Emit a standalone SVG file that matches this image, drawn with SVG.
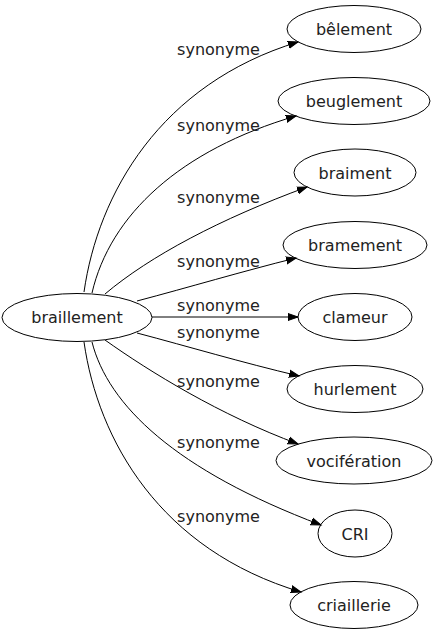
<svg xmlns="http://www.w3.org/2000/svg" width="438" height="635" viewBox="0 0 438 635">
<style>
.node ellipse{fill:none;stroke:#000;stroke-width:1}
.node text{font-family:"DejaVu Sans",sans-serif;font-size:16px;fill:#222;text-anchor:middle}
.edges path{fill:none;stroke:#000;stroke-width:1;marker-end:url(#arr)}
.edges text{font-family:"DejaVu Sans",sans-serif;font-size:16px;fill:#222;text-anchor:middle}
</style>
<defs>
<marker id="arr" markerUnits="userSpaceOnUse" markerWidth="12" markerHeight="10" viewBox="0 -5 12 10" refX="10" refY="0" orient="auto">
<path d="M0,-3.5 L10,0 L0,3.5 z" fill="#000" stroke="#000" stroke-width="1"/>
</marker>
</defs>
<rect width="438" height="635" fill="#fff"/>
<g class="edges" id="edges">
<path d="M84,292 C98,194 160,84 298,42"/>
<text x="218.5" y="55">synonyme</text>
<path d="M92,293 C110,215 180,150 296,116"/>
<text x="218.5" y="131">synonyme</text>
<path d="M105,294 C150,256 220,219 307,187"/>
<text x="218.5" y="203">synonyme</text>
<path d="M137,301 C190,287 240,272 296,258"/>
<text x="218.5" y="267">synonyme</text>
<path d="M152,317 L298,317"/>
<text x="218.5" y="311">synonyme</text>
<text x="218.5" y="338">synonyme</text>
<path d="M137,333 C190,347 240,362 299,376"/>
<path d="M105,340 C150,372 220,415 298,444"/>
<text x="218.5" y="387">synonyme</text>
<path d="M92,342 C108,405 175,470 321,525"/>
<text x="218.5" y="448">synonyme</text>
<path d="M84,342 C98,440 160,550 301,592"/>
<text x="218.5" y="522">synonyme</text>
</g>
<g class="node" id="braillement"><ellipse cx="77" cy="317.5" rx="75" ry="24"/><text x="77" y="323">braillement</text></g>
<g class="node" id="belement"><ellipse cx="354" cy="29" rx="67" ry="23.5"/><text x="354" y="35">bêlement</text></g>
<g class="node" id="beuglement"><ellipse cx="354" cy="101" rx="76" ry="23.5"/><text x="354" y="107">beuglement</text></g>
<g class="node" id="braiment"><ellipse cx="355" cy="172.5" rx="61" ry="23.5"/><text x="355" y="178.5">braiment</text></g>
<g class="node" id="bramement"><ellipse cx="355" cy="245" rx="72" ry="23.5"/><text x="355" y="251">bramement</text></g>
<g class="node" id="clameur"><ellipse cx="355" cy="317" rx="57" ry="23.5"/><text x="355" y="323">clameur</text></g>
<g class="node" id="hurlement"><ellipse cx="355" cy="389" rx="68" ry="23.5"/><text x="355" y="395">hurlement</text></g>
<g class="node" id="vociferation"><ellipse cx="354" cy="460.5" rx="78" ry="23.5"/><text x="354" y="466.5">vocifération</text></g>
<g class="node" id="CRI"><ellipse cx="355" cy="533.5" rx="37" ry="23.5"/><text x="355" y="539.5">CRI</text></g>
<g class="node" id="criaillerie"><ellipse cx="354" cy="605" rx="64" ry="23.5"/><text x="354" y="611">criaillerie</text></g>
</svg>
